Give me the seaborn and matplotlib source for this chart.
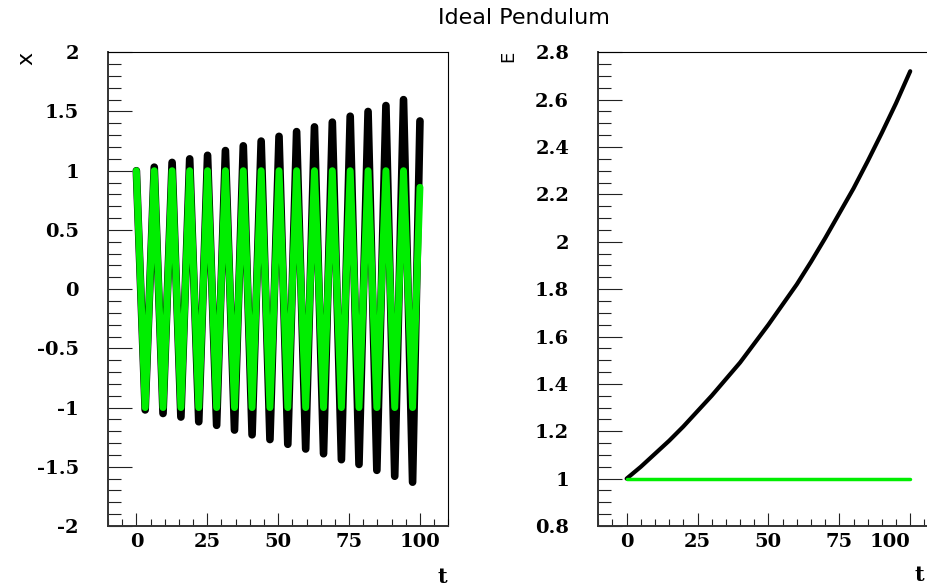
import matplotlib
matplotlib.use("Agg")
import matplotlib.pyplot as plt
from matplotlib.ticker import MultipleLocator
import seaborn as sns
import pandas as pd

# times of the extrema of x and the last sample
peak_t = [0.0, 6.3, 12.6, 18.8, 25.1, 31.4, 37.7, 44.0, 50.3, 56.5, 62.8, 69.1, 75.4, 81.7, 88.0, 94.2]
trough_t = [3.1, 9.4, 15.7, 22.0, 28.3, 34.6, 40.8, 47.1, 53.4, 59.7, 66.0, 72.3, 78.5, 84.8, 91.1, 97.4]
t_end = 100.0

# black series: growing amplitude
black_peaks = [1.00, 1.03, 1.07, 1.10, 1.13, 1.17, 1.21, 1.25, 1.29, 1.33, 1.37, 1.41, 1.46, 1.50, 1.55, 1.60]
black_troughs = [-1.02, -1.05, -1.08, -1.12, -1.15, -1.19, -1.23, -1.27, -1.31, -1.35, -1.39, -1.44, -1.48, -1.53, -1.58, -1.63]
black_end = 1.42

# green series: constant amplitude
green_peaks = [1.00, 1.00, 1.00, 1.00, 1.00, 1.00, 1.00, 1.00, 1.00, 1.00, 1.00, 1.00, 1.00, 1.00, 1.00, 1.00]
green_troughs = [-1.00, -1.00, -1.00, -1.00, -1.00, -1.00, -1.00, -1.00, -1.00, -1.00, -1.00, -1.00, -1.00, -1.00, -1.00, -1.00]
green_end = 0.86

# energy panel
e_t = [0, 5, 10, 15, 20, 25, 30, 35, 40, 45, 50, 55, 60, 65, 70, 75, 80, 85, 90, 95, 100]
black_E = [1.00, 1.05, 1.105, 1.16, 1.22, 1.285, 1.35, 1.42, 1.49, 1.57, 1.65, 1.735, 1.82, 1.915,
           2.015, 2.12, 2.225, 2.34, 2.46, 2.585, 2.72]
green_E = [1.00] * len(e_t)

x_ticks = [0, 25, 50, 75, 100]
x_ticklabels = ["0", "25", "50", "75", "100"]
left_yticks = [-2, -1.5, -1, -0.5, 0, 0.5, 1, 1.5, 2]
left_yticklabels = ["-2", "-1.5", "-1", "-0.5", "0", "0.5", "1", "1.5", "2"]
right_yticks = [0.8, 1.0, 1.2, 1.4, 1.6, 1.8, 2.0, 2.2, 2.4, 2.6, 2.8]
right_yticklabels = ["0.8", "1", "1.2", "1.4", "1.6", "1.8", "2", "2.2", "2.4", "2.6", "2.8"]


def zigzag(peaks, troughs, end):
    rows = []
    for i in range(len(peak_t)):
        rows.append((peak_t[i], peaks[i]))
        rows.append((trough_t[i], troughs[i]))
    rows.append((t_end, end))
    return pd.DataFrame(rows, columns=["t", "x"])


df_black = zigzag(black_peaks, black_troughs, black_end)
df_green = zigzag(green_peaks, green_troughs, green_end)
df_E = pd.DataFrame({"t": e_t, "black": black_E, "green": green_E})

sns.set_style("ticks")
GREEN = "#00ee00"
tick_font = dict(family="DejaVu Serif", weight="bold", size=14)

fig = plt.figure(figsize=(9.28, 5.86), dpi=100)
ax1 = fig.add_axes([0.1164, 0.1024, 0.3667, 0.8084])
ax2 = fig.add_axes([0.6447, 0.1024, 0.3667, 0.8084])

sns.lineplot(data=df_black, x="t", y="x", color="black", lw=5.5, sort=False,
             estimator=None, solid_joinstyle="round", solid_capstyle="round", ax=ax1)
sns.lineplot(data=df_green, x="t", y="x", color=GREEN, lw=5, sort=False,
             estimator=None, solid_joinstyle="round", solid_capstyle="round", ax=ax1)

sns.lineplot(data=df_E, x="t", y="black", color="black", lw=3, estimator=None,
             solid_capstyle="round", ax=ax2)
sns.lineplot(data=df_E, x="t", y="green", color=GREEN, lw=2.5, estimator=None,
             solid_capstyle="round", ax=ax2)

for ax, yt, ytl, ylim, ymin in [(ax1, left_yticks, left_yticklabels, (-2, 2), 0.1),
                                (ax2, right_yticks, right_yticklabels, (0.8, 2.8), 0.05)]:
    ax.set_xlim(-10, 110)
    ax.set_ylim(*ylim)
    ax.set_xticks(x_ticks)
    ax.set_xticklabels(x_ticklabels, fontdict=tick_font)
    ax.set_yticks(yt)
    ax.set_yticklabels(ytl, fontdict=tick_font)
    ax.xaxis.set_minor_locator(MultipleLocator(5))
    ax.yaxis.set_minor_locator(MultipleLocator(ymin))
    ax.tick_params(axis="y", which="major", direction="in", length=17, width=0.8,
                   pad=21, color="#222222", labelcolor="black", right=False)
    ax.tick_params(axis="y", which="minor", direction="in", length=9, width=0.8,
                   color="#222222", right=False)
    ax.tick_params(axis="x", which="major", direction="in", length=9.5, width=0.8,
                   pad=5, color="#222222", labelcolor="black", top=False)
    ax.tick_params(axis="x", which="minor", direction="in", length=5, width=0.8,
                   color="#222222", top=False)
    ax.set_xlabel("")
    ax.set_ylabel("")
    for side in ["top", "right"]:
        ax.spines[side].set_visible(True)
        ax.spines[side].set_linewidth(0.8)
        ax.spines[side].set_color("black")
    for side in ["left", "bottom"]:
        ax.spines[side].set_linewidth(1.4)
        ax.spines[side].set_color("#333333")

# the right panel runs off the figure edge; keep its last tick label inside
ax2.get_xticklabels()[-1].set_horizontalalignment("right")

fig.text(0.5647, 0.969, "Ideal Pendulum", ha="center", va="center",
         family="DejaVu Sans", size=16, color="black")
fig.text(0.028, 0.90, "x", rotation=90, ha="center", va="center",
         family="DejaVu Sans", size=16, color="black")
fig.text(0.548, 0.903, "E", rotation=90, ha="center", va="center",
         family="DejaVu Sans", size=13, color="black")
fig.text(0.477, 0.016, "t", ha="center", va="center", family="DejaVu Serif",
         weight="bold", size=15, color="black")
fig.text(0.991, 0.019, "t", ha="center", va="center", family="DejaVu Serif",
         weight="bold", size=15, color="black")

fig.savefig("out.png", dpi=100)
